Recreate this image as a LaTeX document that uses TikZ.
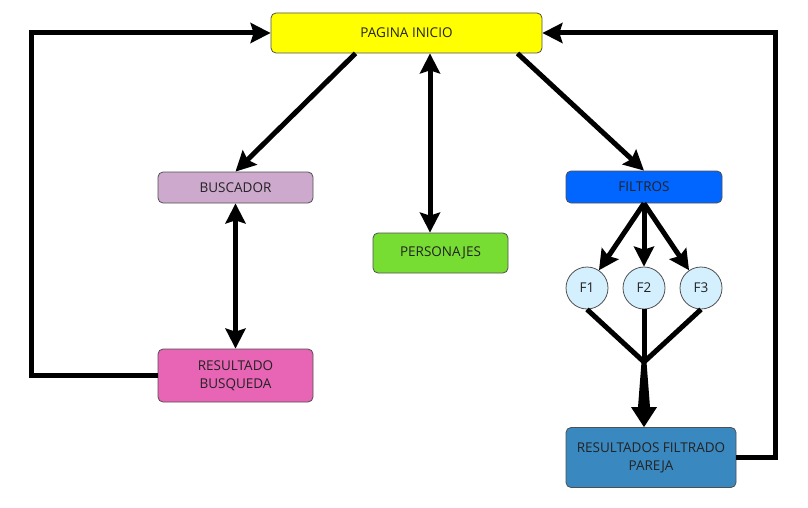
\documentclass[tikz,border=0pt]{standalone}
\usepackage{fontspec}
\setmainfont{Open Sans}
\usetikzlibrary{arrows.meta, calc}
\definecolor{iniciocolor}{RGB}{255,255,0}
\definecolor{buscolor}{RGB}{205,170,205}
\definecolor{personcolor}{RGB}{119,221,51}
\definecolor{filtcolor}{RGB}{0,102,255}
\definecolor{fcolor}{RGB}{212,240,255}
\definecolor{resbcolor}{RGB}{232,100,180}
\definecolor{resfcolor}{RGB}{58,136,192}
\definecolor{edgecolor}{RGB}{80,80,80}
\definecolor{txtcolor}{RGB}{35,35,35}

\begin{document}
\begin{tikzpicture}[
    x=1pt, y=-1pt,
    box/.style={draw=edgecolor, line width=0.8pt, rounded corners=5pt,
                inner sep=0pt, align=center, text=txtcolor,
                font=\fontsize{13.5}{18}\selectfont},
    fnode/.style={circle, draw=edgecolor, line width=0.8pt, fill=fcolor,
                  minimum size=42pt, inner sep=0pt, text=txtcolor,
                  font=\fontsize{13.5}{18}\selectfont},
    arrow/.style={line width=5pt, line join=miter,
                  -{Stealth[length=20pt, width=20pt, inset=3pt]}},
    dblarrow/.style={line width=5pt,
                  {Stealth[length=20pt, width=20pt, inset=3pt]}-{Stealth[length=20pt, width=20pt, inset=3pt]}},
    link/.style={line width=5pt}
  ]
    \useasboundingbox (0,0) rectangle (808,508);

    %% Top page
    \node[box, fill=iniciocolor, minimum width=271pt, minimum height=40pt]
      (inicio) at (406.5,33) {PAGINA INICIO};

    %% Second level
    \node[box, fill=buscolor, minimum width=155pt, minimum height=31pt]
      (buscador) at (235.5,187.5) {BUSCADOR};
    \node[box, fill=personcolor, minimum width=135pt, minimum height=40pt]
      (personajes) at (440.5,253) {PERSONAJES};
    \node[box, fill=filtcolor, minimum width=156pt, minimum height=32pt]
      (filtros) at (644,187) {FILTROS};

    %% Filters
    \node[fnode] (f1) at (587,288) {F1};
    \node[fnode] (f2) at (644,288) {F2};
    \node[fnode] (f3) at (701,288) {F3};
    \coordinate (merge) at (644,362);

    %% Results
    \node[box, fill=resbcolor, minimum width=155pt, minimum height=53pt]
      (resbusq) at (235.5,375.5) {RESULTADO\\BUSQUEDA};
    \node[box, fill=resfcolor, minimum width=170pt, minimum height=60pt]
      (resfilt) at (651,457.5) {RESULTADOS FILTRADO\\PAREJA};

    %% Arrows from the top page
    \draw[arrow] ([xshift=-51pt]inicio.south) -- (buscador.north);
    \draw[arrow] ([xshift=111pt]inicio.south) -- (filtros.north);
    \coordinate (pers) at ([xshift=-10.5pt]personajes.north);
    \draw[dblarrow] (pers |- inicio.south) -- (pers);
    \draw[dblarrow] (buscador.south) -- (resbusq.north);

    %% Arrows of the filters
    \foreach \f in {f1, f2, f3} {
      \draw[arrow] (filtros.south) -- (\f);
      \draw[link] (\f.south) -- (merge);
    }
    \coordinate (tip) at (merge |- resfilt.north);
    \fill ($(merge)+(-2.5,0)$) -- ($(merge)+(2.5,0)$) -- ($(tip)+(6,-20)$)
      -- ($(tip)+(13,-20)$) -- (tip) -- ($(tip)+(-13,-20)$)
      -- ($(tip)+(-6,-20)$) -- cycle;

    %% Return loops
    \draw[arrow] (resbusq.west) -- ++(-126,0) |- (inicio.west);
    \draw[arrow] (resfilt.east) -- ++(39,0) |- (inicio.east);
  \end{tikzpicture}
\end{document}
